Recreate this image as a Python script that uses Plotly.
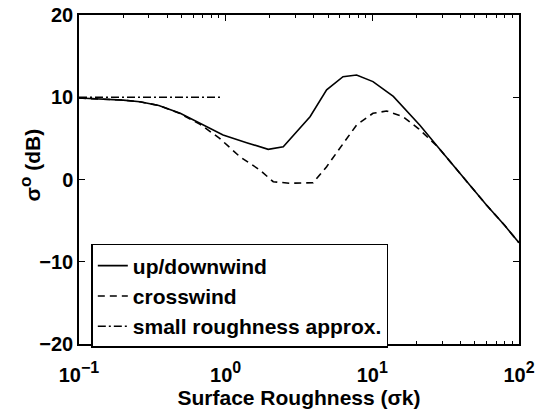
import plotly.graph_objects as go

# Backscatter vs. surface roughness
x_up = [0.1, 0.15, 0.2, 0.26, 0.35, 0.49, 0.67, 0.96, 1.39, 1.95, 2.47, 3.76,
        4.88, 6.31, 7.81, 10.1, 13.9, 21.1, 28, 35, 45, 60, 80, 100]
sigma_up = [9.9, 9.8, 9.65, 9.45, 9.0, 8.05, 6.84, 5.41, 4.48, 3.67, 3.99, 7.64,
            10.9, 12.5, 12.7, 11.9, 10.1, 6.6, 3.95, 1.9, -0.45, -3.1, -5.6, -7.7]

x_cross = [0.1, 0.15, 0.2, 0.26, 0.35, 0.49, 0.67, 0.91, 1.25, 1.71, 2.11, 2.74,
           3.95, 4.88, 6.31, 7.81, 10.1, 12.5, 16.2, 20.6, 28, 35, 45, 60, 80, 100]
sigma_cross = [9.9, 9.8, 9.65, 9.45, 9.0, 8.0, 6.7, 5.0, 2.77, 1.16, -0.27, -0.46,
               -0.39, 1.56, 4.4, 6.63, 8.05, 8.33, 7.64, 6.2, 3.95, 1.9, -0.45, -3.1, -5.6, -7.7]

x_small = [0.1, 0.93]
sigma_small = [10.0, 10.0]

x_tickvals = [0.1, 1, 10, 100]
x_exponents = ["−1", "0", "1", "2"]
y_tickvals = [-20, -10, 0, 10, 20]
y_ticktext = ["−20", "−10", "0", "10", "20"]

FONT = dict(family="Liberation Sans, Arial, sans-serif", size=20, color="black", weight="bold")
x_ticktext = ["10<sup><span style='font-size:16px'>%s</span></sup>" % e for e in x_exponents]

fig = go.Figure()
fig.add_trace(go.Scatter(x=x_up, y=sigma_up, mode="lines", name="up/downwind",
                         line=dict(color="black", width=1.6, dash="solid")))
fig.add_trace(go.Scatter(x=x_cross, y=sigma_cross, mode="lines", name="crosswind",
                         line=dict(color="black", width=1.6, dash="7px,5px")))
fig.add_trace(go.Scatter(x=x_small, y=sigma_small, mode="lines", name="small roughness approx.",
                         line=dict(color="black", width=1.3, dash="8px,3px,2px,3px")))

axis_common = dict(showgrid=False, zeroline=False, showline=True, linecolor="black",
                   linewidth=1.5, mirror="allticks", ticks="inside", tickcolor="black",
                   tickwidth=1, ticklen=6, tickfont=FONT, automargin=False)

fig.update_xaxes(type="log", range=[-1, 2], tickvals=x_tickvals, ticktext=x_ticktext,
                 ticklabelstandoff=12,
                 minor=dict(ticks="inside", ticklen=3, tickcolor="black",
                            tickvals=[m * d for d in (0.1, 1, 10) for m in range(2, 10)]),
                 title=dict(text="Surface Roughness (σk)", font=dict(FONT, size=21), standoff=2),
                 **axis_common)
fig.update_yaxes(range=[-20, 20], tickvals=y_tickvals, ticktext=y_ticktext,
                 **axis_common)

fig.add_annotation(text="σ<sup><span style='font-size:17px'>o</span></sup> (dB)",
                   textangle=-90, font=dict(FONT, size=21),
                   xref="paper", yref="paper", x=-0.112, y=0.545,
                   xanchor="center", yanchor="middle", showarrow=False)

fig.update_layout(
    width=537, height=410,
    margin=dict(l=79, r=18, t=15, b=66),
    paper_bgcolor="white", plot_bgcolor="white",
    font=FONT,
    showlegend=True,
    legend=dict(x=0.028, y=0.304, xanchor="left", yanchor="top",
                bgcolor="white", bordercolor="black", borderwidth=1.5,
                font=dict(FONT, size=21), tracegroupgap=0, itemwidth=30),
)

fig.write_html("out.html")
